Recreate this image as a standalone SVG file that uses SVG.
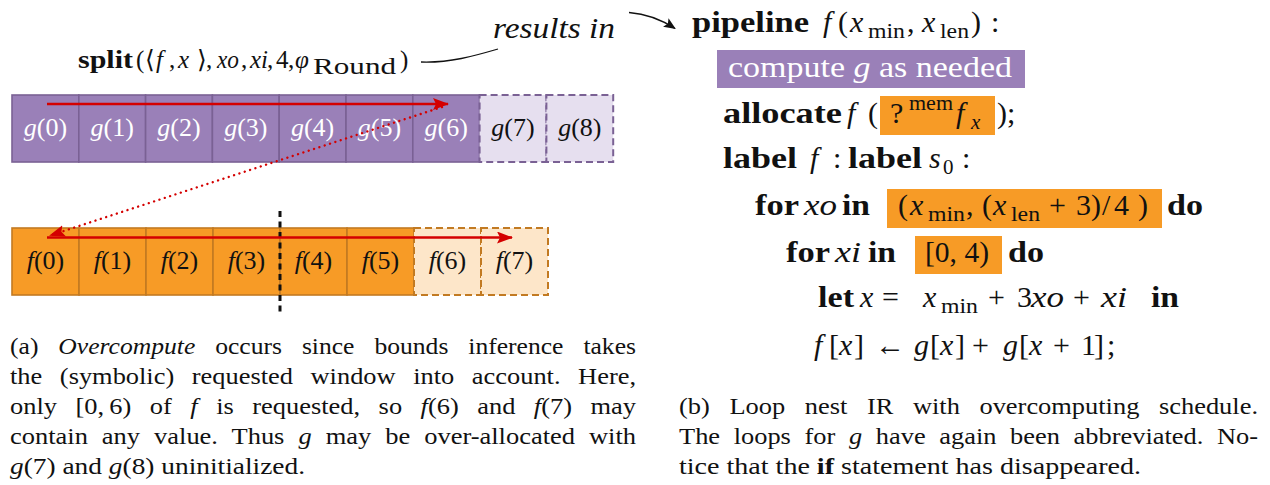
<svg xmlns="http://www.w3.org/2000/svg" width="1270" height="485" viewBox="0 0 1270 485">
  <style>
    .serif { font-family: "Liberation Serif", "DejaVu Serif", serif; fill: #111; }
    .it { font-style: italic; }
    .bf { font-weight: bold; }
    .cell-g { fill: #9a80b8; stroke: #7a6194; stroke-width: 1.6; }
    .cell-gx { fill: #e6dfef; stroke: #7a6194; stroke-width: 2; stroke-dasharray: 7 4; }
    .cell-f { fill: #f79b26; stroke: #c27a22; stroke-width: 1.6; }
    .cell-fx { fill: #fde6c9; stroke: #c27a22; stroke-width: 2; stroke-dasharray: 7 4; }
    .lbl { font-family: "Liberation Serif", "DejaVu Serif", serif; font-size: 26px; text-anchor: middle; fill: #111; }
    .lbl-w { fill: #ffffff; }
    .code { font-family: "Liberation Serif", "DejaVu Serif", serif; font-size: 30px; fill: #111; }
    .sub { font-size: 21px; }
    .cap { font-family: "Liberation Serif", "DejaVu Serif", serif; font-size: 24px; fill: #111; }
    .hl-g { fill: #9a80b8; }
    .hl-f { fill: #f79b26; }
    .red { stroke: #d40000; stroke-width: 2.6; fill: none; }
  </style>
  <defs>
    <marker id="redHead" markerUnits="userSpaceOnUse" markerWidth="18" markerHeight="14" refX="15" refY="6" orient="auto">
      <path d="M0,0 L16,6 L0,12 L3,6 Z" fill="#d40000"/>
    </marker>
    <marker id="blackHead" markerUnits="userSpaceOnUse" markerWidth="14" markerHeight="12" refX="11" refY="5" orient="auto">
      <path d="M0,0 L12,5 L0,10 L2.5,5 Z" fill="#111"/>
    </marker>
  </defs>

  <rect width="1270" height="485" fill="#ffffff"/>

  <!-- split directive -->
  <g id="split-label">
    <text class="serif" font-size="25" y="68">
      <tspan x="78" class="bf" textLength="55" lengthAdjust="spacingAndGlyphs">split</tspan>
      <tspan x="136">(</tspan><tspan x="145">⟨</tspan><tspan x="156" class="it">f</tspan><tspan x="169">,</tspan><tspan x="178" class="it">x</tspan><tspan x="197">⟩</tspan><tspan x="206">,</tspan>
      <tspan x="217" class="it" textLength="22" lengthAdjust="spacingAndGlyphs">xo</tspan><tspan x="241">,</tspan>
      <tspan x="250" class="it">xi</tspan><tspan x="267">,</tspan>
      <tspan x="276">4</tspan><tspan x="288">,</tspan>
      <tspan x="295" class="it">φ</tspan><tspan x="313" y="74" font-size="23" textLength="83" lengthAdjust="spacingAndGlyphs">Round</tspan><tspan x="400" y="68">)</tspan>
    </text>
  </g>

  <g id="results-label">
    <text class="serif it" font-size="29" x="493" y="38" textLength="122" lengthAdjust="spacingAndGlyphs">results in</text>
  </g>

  <!-- g buffer -->
  <g id="g-buffer">
    <g id="g0"><rect class="cell-g" x="12" y="95" width="66.8" height="67"/><text class="lbl lbl-w" x="45.4" y="136"><tspan class="it">g</tspan>(0)</text></g>
    <g id="g1"><rect class="cell-g" x="78.8" y="95" width="66.8" height="67"/><text class="lbl lbl-w" x="112.2" y="136"><tspan class="it">g</tspan>(1)</text></g>
    <g id="g2"><rect class="cell-g" x="145.6" y="95" width="66.8" height="67"/><text class="lbl lbl-w" x="179" y="136"><tspan class="it">g</tspan>(2)</text></g>
    <g id="g3"><rect class="cell-g" x="212.4" y="95" width="66.8" height="67"/><text class="lbl lbl-w" x="245.8" y="136"><tspan class="it">g</tspan>(3)</text></g>
    <g id="g4"><rect class="cell-g" x="279.2" y="95" width="66.8" height="67"/><text class="lbl lbl-w" x="312.6" y="136"><tspan class="it">g</tspan>(4)</text></g>
    <g id="g5"><rect class="cell-g" x="346" y="95" width="66.8" height="67"/><text class="lbl lbl-w" x="379.4" y="136"><tspan class="it">g</tspan>(5)</text></g>
    <g id="g6"><rect class="cell-g" x="412.8" y="95" width="66.8" height="67"/><text class="lbl lbl-w" x="446.2" y="136"><tspan class="it">g</tspan>(6)</text></g>
    <g id="g7"><rect class="cell-gx" x="479.6" y="95" width="66.8" height="67"/><text class="lbl" x="513" y="136"><tspan class="it">g</tspan>(7)</text></g>
    <g id="g8"><rect class="cell-gx" x="546.4" y="95" width="66.8" height="67"/><text class="lbl" x="579.8" y="136"><tspan class="it">g</tspan>(8)</text></g>
  </g>

  <!-- f buffer -->
  <g id="f-buffer">
    <g id="f0"><rect class="cell-f" x="12" y="228" width="67" height="67"/><text class="lbl" x="45.5" y="269"><tspan class="it">f</tspan>(0)</text></g>
    <g id="f1"><rect class="cell-f" x="79" y="228" width="67" height="67"/><text class="lbl" x="112.5" y="269"><tspan class="it">f</tspan>(1)</text></g>
    <g id="f2"><rect class="cell-f" x="146" y="228" width="67" height="67"/><text class="lbl" x="179.5" y="269"><tspan class="it">f</tspan>(2)</text></g>
    <g id="f3"><rect class="cell-f" x="213" y="228" width="67" height="67"/><text class="lbl" x="246.5" y="269"><tspan class="it">f</tspan>(3)</text></g>
    <g id="f4"><rect class="cell-f" x="280" y="228" width="67" height="67"/><text class="lbl" x="313.5" y="269"><tspan class="it">f</tspan>(4)</text></g>
    <g id="f5"><rect class="cell-f" x="347" y="228" width="67" height="67"/><text class="lbl" x="380.5" y="269"><tspan class="it">f</tspan>(5)</text></g>
    <g id="f6"><rect class="cell-fx" x="414" y="228" width="67" height="67"/><text class="lbl" x="447.5" y="269"><tspan class="it">f</tspan>(6)</text></g>
    <g id="f7"><rect class="cell-fx" x="481" y="228" width="67" height="67"/><text class="lbl" x="514.5" y="269"><tspan class="it">f</tspan>(7)</text></g>
  </g>

  <!-- tile boundary of the split -->
  <g id="split-boundary">
    <line x1="280" y1="211" x2="280" y2="313" stroke="#111" stroke-width="3" stroke-dasharray="6 4.5"/>
  </g>

  <!-- connectors -->
  <g id="connectors">
    <line class="red" x1="47" y1="104" x2="448" y2="104" marker-end="url(#redHead)"/>
    <line class="red" x1="47" y1="237.5" x2="512" y2="237.5" marker-end="url(#redHead)"/>
    <line x1="442" y1="107" x2="50" y2="235.5" stroke="#d40000" stroke-width="2.4" stroke-linecap="round" stroke-dasharray="0.01 5.6" marker-end="url(#redHead)"/>
    <path d="M 421 62 C 450 63, 474 56, 498 49" fill="none" stroke="#111" stroke-width="1.3"/>
    <path d="M 629 12.5 C 648 14, 662 20, 675 28.5" fill="none" stroke="#111" stroke-width="1.3" marker-end="url(#blackHead)"/>
  </g>

  <!-- loop nest IR -->
  <g id="ir-code">
    <g id="ir-pipeline">
      <text class="code" y="32">
        <tspan x="692" class="bf" textLength="117" lengthAdjust="spacingAndGlyphs">pipeline</tspan>
        <tspan x="823" class="it">f</tspan><tspan x="838">(</tspan><tspan x="850" class="it">x</tspan><tspan x="868" y="38" class="sub" textLength="37" lengthAdjust="spacingAndGlyphs">min</tspan><tspan x="907" y="32">,</tspan>
        <tspan x="922" class="it">x</tspan><tspan x="940" y="38" class="sub" textLength="29" lengthAdjust="spacingAndGlyphs">len</tspan><tspan x="971" y="32">)</tspan><tspan x="991">:</tspan>
      </text>
    </g>
    <g id="ir-compute-g">
      <rect class="hl-g" x="717" y="50" width="308" height="38"/>
      <text class="code" x="728" y="77" style="fill:#ffffff" textLength="284" lengthAdjust="spacingAndGlyphs">compute <tspan class="it">g</tspan> as needed</text>
    </g>
    <g id="ir-allocate">
      <rect class="hl-f" x="880" y="96" width="115" height="39"/>
      <text class="code" y="123">
        <tspan x="723" class="bf" textLength="119" lengthAdjust="spacingAndGlyphs">allocate</tspan>
        <tspan x="847" class="it">f</tspan><tspan x="868">(</tspan>
        <tspan x="890">?</tspan><tspan x="909" y="110" class="sub" textLength="44" lengthAdjust="spacingAndGlyphs">mem</tspan>
        <tspan x="956" y="123" class="it">f</tspan><tspan x="971" y="129" class="sub it">x</tspan>
        <tspan x="997" y="123">)</tspan><tspan x="1007">;</tspan>
      </text>
    </g>
    <g id="ir-labels">
      <text class="code" y="168">
        <tspan x="723" class="bf" textLength="74" lengthAdjust="spacingAndGlyphs">label</tspan>
        <tspan x="810" class="it">f</tspan><tspan x="833">:</tspan>
        <tspan x="848" class="bf" textLength="74" lengthAdjust="spacingAndGlyphs">label</tspan>
        <tspan x="929" class="it">s</tspan><tspan x="943" y="174" class="sub">0</tspan><tspan x="962" y="168">:</tspan>
      </text>
    </g>
    <g id="ir-for-xo">
      <rect class="hl-f" x="887" y="189" width="275" height="39"/>
      <text class="code" y="215">
        <tspan x="755" class="bf" textLength="44" lengthAdjust="spacingAndGlyphs">for</tspan>
        <tspan x="804" class="it" textLength="33" lengthAdjust="spacingAndGlyphs">xo</tspan>
        <tspan x="842" class="bf" textLength="28" lengthAdjust="spacingAndGlyphs">in</tspan>
        <tspan x="898">(</tspan><tspan x="910" class="it">x</tspan><tspan x="928" y="221" class="sub" textLength="37" lengthAdjust="spacingAndGlyphs">min</tspan><tspan x="966" y="215">,</tspan>
        <tspan x="982">(</tspan><tspan x="993" class="it">x</tspan><tspan x="1011" y="221" class="sub" textLength="29" lengthAdjust="spacingAndGlyphs">len</tspan>
        <tspan x="1049" y="215">+</tspan><tspan x="1076">3</tspan><tspan x="1091">)</tspan><tspan x="1102">/</tspan><tspan x="1114">4</tspan><tspan x="1138">)</tspan>
        <tspan x="1167" class="bf" textLength="36" lengthAdjust="spacingAndGlyphs">do</tspan>
      </text>
    </g>
    <g id="ir-for-xi">
      <rect class="hl-f" x="915" y="236" width="87" height="38"/>
      <text class="code" y="262">
        <tspan x="786" class="bf" textLength="44" lengthAdjust="spacingAndGlyphs">for</tspan>
        <tspan x="835" class="it" textLength="26" lengthAdjust="spacingAndGlyphs">xi</tspan>
        <tspan x="868" class="bf" textLength="28" lengthAdjust="spacingAndGlyphs">in</tspan>
        <tspan x="925" textLength="64" lengthAdjust="spacingAndGlyphs">[0, 4)</tspan>
        <tspan x="1008" class="bf" textLength="36" lengthAdjust="spacingAndGlyphs">do</tspan>
      </text>
    </g>
    <g id="ir-let">
      <text class="code" y="307">
        <tspan x="818" class="bf" textLength="36" lengthAdjust="spacingAndGlyphs">let</tspan>
        <tspan x="860" class="it">x</tspan><tspan x="882">=</tspan>
        <tspan x="923" class="it">x</tspan><tspan x="941" y="313" class="sub" textLength="37" lengthAdjust="spacingAndGlyphs">min</tspan>
        <tspan x="988" y="307">+</tspan><tspan x="1017">3</tspan><tspan x="1031" class="it" textLength="33" lengthAdjust="spacingAndGlyphs">xo</tspan>
        <tspan x="1073">+</tspan><tspan x="1101" class="it" textLength="26" lengthAdjust="spacingAndGlyphs">xi</tspan>
        <tspan x="1151" class="bf" textLength="28" lengthAdjust="spacingAndGlyphs">in</tspan>
      </text>
    </g>
    <g id="ir-assign">
      <text class="code" y="355">
        <tspan x="814" class="it">f</tspan><tspan x="829">[</tspan><tspan x="839" class="it">x</tspan><tspan x="854">]</tspan>
        <tspan x="875">←</tspan>
        <tspan x="914" class="it">g</tspan><tspan x="930">[</tspan><tspan x="940" class="it">x</tspan><tspan x="955">]</tspan>
        <tspan x="972">+</tspan>
        <tspan x="1003" class="it">g</tspan><tspan x="1019">[</tspan><tspan x="1029" class="it">x</tspan>
        <tspan x="1053">+</tspan><tspan x="1081">1</tspan><tspan x="1094">]</tspan><tspan x="1107">;</tspan>
      </text>
    </g>
  </g>

  <!-- caption (a): justified lines -->
  <g id="caption-a">
    <text class="cap" x="10" y="354" style="word-spacing:12.7px" textLength="626" lengthAdjust="spacingAndGlyphs">(a) <tspan class="it">Overcompute</tspan> occurs since bounds inference takes</text>
    <text class="cap" x="10" y="384" style="word-spacing:10px" textLength="626" lengthAdjust="spacingAndGlyphs">the (symbolic) requested window into account. Here,</text>
    <text class="cap" x="10" y="414" style="word-spacing:10.8px" textLength="626" lengthAdjust="spacingAndGlyphs">only [0,&#8201;6) of <tspan class="it">f</tspan> is requested, so <tspan class="it">f</tspan>(6) and <tspan class="it">f</tspan>(7) may</text>
    <text class="cap" x="10" y="444" style="word-spacing:6.7px" textLength="626" lengthAdjust="spacingAndGlyphs">contain any value. Thus <tspan class="it">g</tspan> may be over-allocated with</text>
    <text class="cap" x="10" y="474" textLength="295" lengthAdjust="spacingAndGlyphs"><tspan class="it">g</tspan>(7) and <tspan class="it">g</tspan>(8) uninitialized.</text>
  </g>

  <!-- caption (b) -->
  <g id="caption-b">
    <text class="cap" x="679" y="414" style="word-spacing:11.8px" textLength="579" lengthAdjust="spacingAndGlyphs">(b) Loop nest IR with overcomputing schedule.</text>
    <text class="cap" x="679" y="444" style="word-spacing:6.4px" textLength="579" lengthAdjust="spacingAndGlyphs">The loops for <tspan class="it">g</tspan> have again been abbreviated. No-</text>
    <text class="cap" x="679" y="474" textLength="462" lengthAdjust="spacingAndGlyphs">tice that the <tspan class="bf">if</tspan> statement has disappeared.</text>
  </g>
</svg>
